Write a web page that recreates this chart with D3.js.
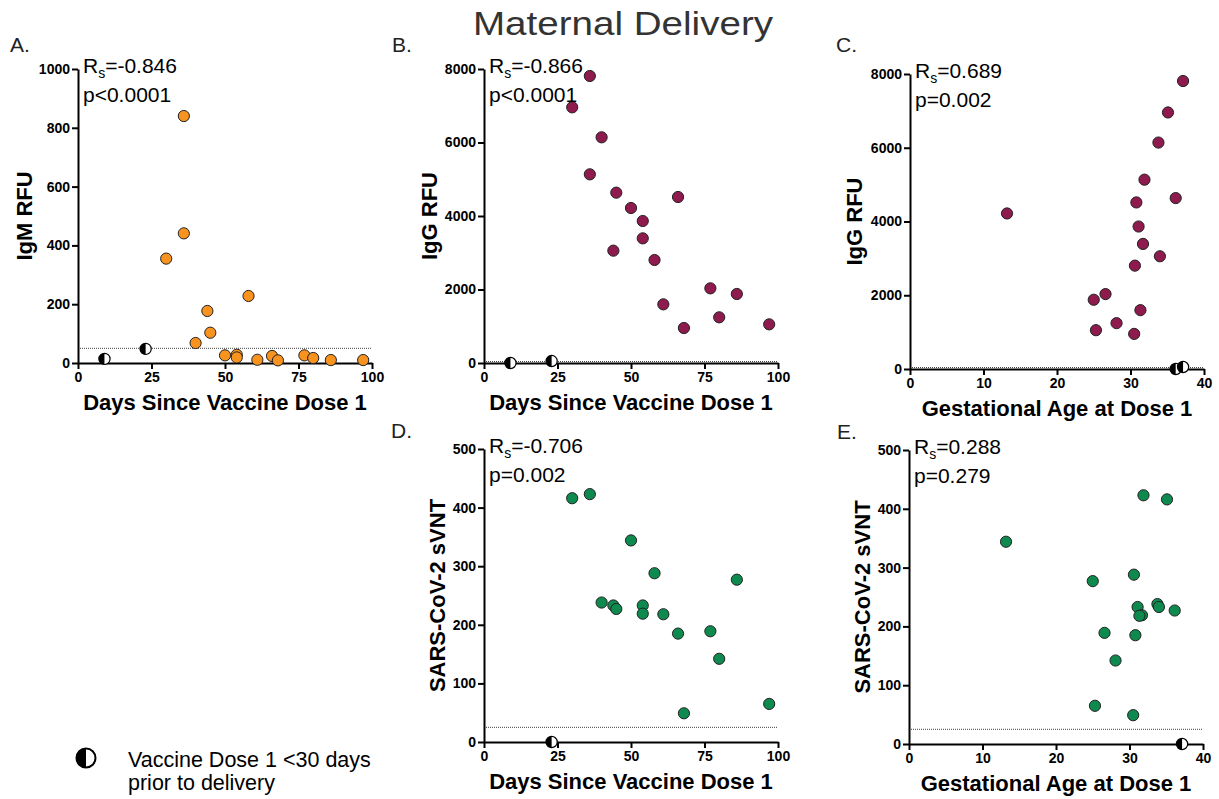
<!DOCTYPE html>
<html lang="en">
<head>
  <meta charset="UTF-8" />
  <title>Maternal Delivery</title>
  <script src="https://d3js.org/d3.v7.min.js"></script>
  <style>
    body { margin: 0; background: #fff; font-family: "Liberation Sans", Arial, sans-serif; }
    .domain, .tick line { stroke: #000; stroke-width: 2px; }
    .axis-title { font-size: 22px; font-weight: bold; fill: #000; }
    .stat { font-size: 21px; fill: #000; }
    .legend-text { font-size: 21.5px; fill: #000; }
    .panel-letter { font-size: 21px; fill: #222; }
  </style>
</head>
<body>
  <svg width="1219" height="799"></svg>
  <script>
    // one entry per mother (dose 1 >= 30 days before delivery)
    const days    = [30, 36, 36, 40, 44, 45, 50, 54, 54, 58, 61, 66, 68, 77, 80, 86, 97];
    const gestAge = [35.1, 37.15, 31.9, 33.8, 34.0, 36.15, 13.2, 31.1, 31.7, 30.6, 31.35, 30.8, 30.5, 26.6, 28.1, 25.0, 25.3];
    const igm     = [355, 840, 441, 68, 177, 103, 26, 28, 19, 228, 11, 24, 9, 26, 17, 10, 10];
    const igg     = [6957, 7810, 5134, 6141, 3057, 4635, 4218, 3864, 3392, 2803, 1596, 4517, 952, 2032, 1243, 1878, 1052];
    const svnt    = [416, null, 423, 238, 233, 227, 344, 233, 219, 288, 218, 185, 49, 189, 142, 277, 65];

    // dose 1 < 30 days before delivery (half-filled markers)
    const earlyDays    = [9, 23];
    const earlyGestAge = [36.15, 37.15];
    const earlyIgm     = [14, 48];
    const earlyIgg     = [0, 54];
    const earlySvnt    = [null, 0];

    const dayTicks = [0, 25, 50, 75, 100];
    const gaTicks = [0, 10, 20, 30, 40];
    const igmTicks = [0, 200, 400, 600, 800, 1000];
    const iggTicks = [0, 2000, 4000, 6000, 8000];
    const svntTicks = [0, 100, 200, 300, 400, 500];

    const svg = d3.select("svg");

    svg.append("text")
      .attr("x", 623).attr("y", 35)
      .attr("text-anchor", "middle")
      .attr("font-size", 34)
      .attr("textLength", 300).attr("lengthAdjust", "spacingAndGlyphs")
      .attr("fill", "#333")
      .text("Maternal Delivery");

    function halfMarker(g, cx, cy, r, sw) {
      g.append("circle").attr("cx", cx).attr("cy", cy).attr("r", r)
        .attr("fill", "#fff").attr("stroke", "#000").attr("stroke-width", sw);
      g.append("path")
        .attr("d", `M${cx},${cy - r} A${r},${r} 0 0,0 ${cx},${cy + r} Z`)
        .attr("fill", "#000");
    }

    function styleAxis(a) {
      a.attr("font-family", "'Liberation Sans', Arial, sans-serif")
        .attr("font-size", 14).attr("font-weight", "bold");
      a.selectAll(".tick text").attr("fill", "#000");
    }

    function panel(p) {
      const x = d3.scaleLinear().domain([p.xTicks[0], p.xTicks[p.xTicks.length - 1]]).range([p.left, p.right]);
      const y = d3.scaleLinear().domain([p.yTicks[0], p.yTicks[p.yTicks.length - 1]]).range([p.bottom, p.top]);
      const g = svg.append("g");

      g.append("line")
        .attr("x1", x(0) + 2).attr("x2", p.right)
        .attr("y1", y(p.cutoff)).attr("y2", y(p.cutoff))
        .attr("stroke", "#444").attr("stroke-width", 1).attr("stroke-dasharray", "1,1");

      g.append("g").attr("transform", `translate(0,${p.bottom})`)
        .call(d3.axisBottom(x).tickValues(p.xTicks).tickFormat(d3.format("d"))
          .tickSize(6).tickSizeOuter(0).tickPadding(3))
        .call(styleAxis);
      g.append("g").attr("transform", `translate(${p.left},0)`)
        .call(d3.axisLeft(y).tickValues(p.yTicks).tickFormat(d3.format("d"))
          .tickSize(6).tickSizeOuter(0).tickPadding(2))
        .call(styleAxis);

      const pts = p.xs.map((v, i) => [v, p.ys[i]]).filter(d => d[1] != null);
      g.append("g").selectAll("circle").data(pts).join("circle")
        .attr("cx", d => x(d[0])).attr("cy", d => y(d[1])).attr("r", 5.6)
        .attr("fill", p.color).attr("stroke", "#222").attr("stroke-width", 1);

      p.ex.forEach((v, i) => {
        if (p.ey[i] != null) halfMarker(g, x(v), y(p.ey[i]), 5.6, 1.2);
      });

      g.append("text").attr("class", "axis-title")
        .attr("x", (p.left + p.right) / 2).attr("y", p.bottom + 47)
        .attr("text-anchor", "middle").text(p.xTitle);
      g.append("text").attr("class", "axis-title")
        .attr("transform", `translate(${p.left - p.yTitleOff},${(p.top + p.bottom) / 2}) rotate(-90)`)
        .attr("text-anchor", "middle").text(p.yTitle);

      const st = g.append("text").attr("class", "stat").attr("x", p.left + 5).attr("y", p.top + 4);
      st.append("tspan").text("R");
      st.append("tspan").style("font-size", "14px").attr("dy", 5).text("s");
      st.append("tspan").attr("dy", -5).text("=" + p.rs);
      g.append("text").attr("class", "stat").attr("x", p.left + 5).attr("y", p.top + 33).text(p.pval);

      g.append("text").attr("class", "panel-letter")
        .attr("x", p.letterX).attr("y", p.letterY).text(p.letter);
    }

    panel({ letter: "A.", letterX: 10, letterY: 52, left: 78, right: 372, top: 69, bottom: 363,
      xTicks: dayTicks, yTicks: igmTicks, xs: days, ys: igm, ex: earlyDays, ey: earlyIgm,
      color: "#F7931E", cutoff: 50, xTitle: "Days Since Vaccine Dose 1", yTitle: "IgM RFU", yTitleOff: 46,
      rs: "-0.846", pval: "p<0.0001" });
    panel({ letter: "B.", letterX: 392, letterY: 52, left: 484, right: 778, top: 69, bottom: 363,
      xTicks: dayTicks, yTicks: iggTicks, xs: days, ys: igg, ex: earlyDays, ey: earlyIgg,
      color: "#8E1A4E", cutoff: 40, xTitle: "Days Since Vaccine Dose 1", yTitle: "IgG RFU", yTitleOff: 47,
      rs: "-0.866", pval: "p<0.0001" });
    panel({ letter: "C.", letterX: 836, letterY: 52, left: 910, right: 1204, top: 74, bottom: 369,
      xTicks: gaTicks, yTicks: iggTicks, xs: gestAge, ys: igg, ex: earlyGestAge, ey: earlyIgg,
      color: "#8E1A4E", cutoff: 40, xTitle: "Gestational Age at Dose 1", yTitle: "IgG RFU", yTitleOff: 48,
      rs: "0.689", pval: "p=0.002" });
    panel({ letter: "D.", letterX: 391, letterY: 438, left: 484, right: 778, top: 449, bottom: 742,
      xTicks: dayTicks, yTicks: svntTicks, xs: days, ys: svnt, ex: earlyDays, ey: earlySvnt,
      color: "#0E8A4F", cutoff: 25, xTitle: "Days Since Vaccine Dose 1", yTitle: "SARS-CoV-2 sVNT", yTitleOff: 39,
      rs: "-0.706", pval: "p=0.002" });
    panel({ letter: "E.", letterX: 837, letterY: 439, left: 909, right: 1203, top: 450, bottom: 744,
      xTicks: gaTicks, yTicks: svntTicks, xs: gestAge, ys: svnt, ex: earlyGestAge, ey: earlySvnt,
      color: "#0E8A4F", cutoff: 25, xTitle: "Gestational Age at Dose 1", yTitle: "SARS-CoV-2 sVNT", yTitleOff: 39,
      rs: "0.288", pval: "p=0.279" });

    // legend
    const lg = svg.append("g");
    halfMarker(lg, 86, 758, 9.5, 2);
    lg.append("text").attr("class", "legend-text").attr("x", 128).attr("y", 767).text("Vaccine Dose 1 <30 days");
    lg.append("text").attr("class", "legend-text").attr("x", 128).attr("y", 790).text("prior to delivery");
  </script>
</body>
</html>
